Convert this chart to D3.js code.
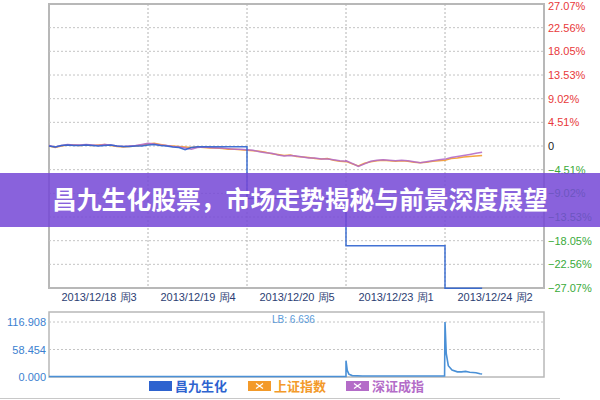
<!DOCTYPE html>
<html><head><meta charset="utf-8">
<script src="https://cdn.jsdelivr.net/npm/d3@7/dist/d3.min.js"></script>
<style>body{margin:0;background:#fff}svg{display:block}</style>
</head><body>
<svg id="c" width="600" height="400"></svg>
<script>
const dayLabels = ["2013/12/18 周3","2013/12/19 周4","2013/12/20 周5","2013/12/23 周1","2013/12/24 周2"];
const pctTicks = [27.07,22.56,18.05,13.53,9.02,4.51,0,-4.51,-9.02,-13.53,-18.05,-22.56,-27.07];
const volTicks = [0, 58.454, 116.908];
const stepMin = 15, dayMin = 240;
// 昌九生化 % change, per day, every 15 minutes
const stockPct = [
  [0.0,-0.2,0.1,0.2,0.1,0.1,0.2,0.1,0.0,0.1,0.2,0.0,-0.1,-0.1,0.0,0.0,0.2],
  [0.2,0.3,0.1,0.0,-0.2,-0.3,-0.7,-0.3,-0.15,-0.15,-0.15,-0.15,-0.15,-0.15,-0.15,-0.15,-0.15],
  [-10,-10,-10,-10,-10,-10,-10,-10,-10,-10,-10,-10,-10,-10,-10,-10,-10],
  [-19,-19,-19,-19,-19,-19,-19,-19,-19,-19,-19,-19,-19,-19,-19,-19,-19],
  [-27.1,-27.1,-27.1,-27.1,-27.1,-27.1,-27.1]
];
const shPct = [
  [0.0,-0.3,0.0,0.2,0.2,0.1,0.2,0.1,0.2,0.3,0.1,-0.1,-0.2,-0.1,0.0,0.2,0.4],
  [0.4,0.5,0.3,0.1,0.0,-0.1,-0.2,-0.3,-0.2,-0.3,-0.4,-0.4,-0.5,-0.6,-0.6,-0.7,-0.8],
  [-0.8,-0.9,-1.0,-1.2,-1.5,-1.6,-1.8,-1.7,-2.0,-2.1,-2.2,-2.4,-2.5,-2.4,-2.7,-2.9,-3.0],
  [-2.9,-3.4,-3.8,-3.3,-3.0,-2.8,-2.7,-2.8,-2.9,-2.8,-2.9,-3.1,-3.2,-3.1,-2.9,-2.8,-2.7],
  [-2.7,-2.4,-2.3,-2.1,-2.0,-1.9,-1.8]
];
const szPct = [
  [0.1,-0.2,0.1,0.3,0.2,0.2,0.3,0.2,0.1,0.3,0.2,0.0,-0.1,0.0,0.1,0.3,0.5],
  [0.5,0.4,0.2,0.1,-0.1,-0.2,-0.4,-0.6,-0.3,-0.2,-0.3,-0.4,-0.4,-0.5,-0.6,-0.6,-0.7],
  [-0.7,-0.8,-1.1,-1.3,-1.4,-1.7,-1.9,-1.8,-1.9,-2.1,-2.3,-2.3,-2.5,-2.5,-2.6,-2.8,-2.9],
  [-2.8,-3.3,-3.9,-3.4,-2.9,-2.7,-2.6,-2.7,-2.8,-2.7,-2.8,-3.0,-3.2,-3.0,-2.8,-2.6,-2.5],
  [-2.5,-2.2,-2.0,-1.8,-1.6,-1.4,-1.2]
];
// volume: minute offset from first open, value
const volTime  = [0,240,480,720,720,723,727,735,760,840,959,960,963,968,977,990,1000,1010,1020,1035,1045,1050];
const volValue = [1,1,1,1,34.6,14,6,3,2,2,2,116.908,50,24,15,11,11,12,10,9,7,6.4];
const lbText = "LB: 6.636";
const legendNames = ["昌九生化","上证指数","深证成指"];
const colors = ["#2e63cf","#f39a2a","#b46cc8"];

const svg = d3.select("#c");
const L = 49, R = 544;
const x = d3.scaleLinear().domain([0, dayMin*5]).range([L, R]);
const y = d3.scaleLinear().domain([-27.07, 27.07]).range([288, 4]);
const yv = d3.scaleLinear().domain([0, 116.908]).range([377, 322]);

function toPts(arr){
  const pts=[];
  arr.forEach((day,d)=>day.forEach((v,i)=>pts.push([d*dayMin+i*stepMin, v])));
  return pts;
}

// main frame
svg.append("rect").attr("x",L).attr("y",4).attr("width",R-L).attr("height",284)
  .attr("fill","#fff").attr("stroke","#b8b8b8").attr("stroke-width",2);
// horizontal grid
svg.append("g").selectAll("line").data(pctTicks.slice(1,-1)).join("line")
  .attr("x1",L).attr("x2",R).attr("y1",d=>y(d)).attr("y2",d=>y(d))
  .attr("stroke","#c4c4c4").attr("stroke-dasharray","2,2");
// vertical grid
svg.append("g").selectAll("line").data([1,2,3,4]).join("line")
  .attr("x1",d=>x(d*dayMin)).attr("x2",d=>x(d*dayMin)).attr("y1",4).attr("y2",288)
  .attr("stroke","#b4b4b4").attr("stroke-dasharray","2,2");
// right axis
const ra = svg.append("g").attr("transform",`translate(${R},0)`)
  .call(d3.axisRight(y).tickValues(pctTicks).tickSize(0).tickPadding(4)
    .tickFormat(d=> d===0 ? "0" : d3.format(".2f")(d)+"%"));
ra.select(".domain").remove();
ra.selectAll("text").attr("font-family","Arial, 'Liberation Sans', sans-serif").attr("font-size",11)
  .attr("fill",d=> d>0 ? "#e8393a" : d<0 ? "#3aaa3a" : "#222");
ra.selectAll(".tick").filter(d=>d===27.07).select("text").attr("dy","0.85em").attr("y",-4);
// x labels
const xa = svg.append("g").attr("transform","translate(0,288)")
  .call(d3.axisBottom(x).tickValues([0,1,2,3,4].map(d=>d*dayMin+dayMin/2)).tickSize(0).tickPadding(5)
    .tickFormat((d,i)=>dayLabels[i]));
xa.select(".domain").remove();
xa.selectAll("text").attr("font-family","Arial, 'Liberation Sans', sans-serif").attr("font-size",11).attr("fill","#2c3e73");

const line = d3.line().x(d=>x(d[0])).y(d=>y(d[1]));
[[shPct,colors[1]],[szPct,colors[2]],[stockPct,colors[0]]].forEach(([arr,c])=>{
  svg.append("path").datum(toPts(arr)).attr("d",line).attr("fill","none")
    .attr("stroke",c).attr("stroke-width",1.5).attr("opacity",0.9);
});

// volume panel
svg.append("rect").attr("x",L).attr("y",312).attr("width",R-L).attr("height",65)
  .attr("fill","#fff").attr("stroke","#b8b8b8").attr("stroke-width",1.5);
svg.append("g").selectAll("line").data(volTicks.slice(1)).join("line")
  .attr("x1",L).attr("x2",R).attr("y1",d=>yv(d)).attr("y2",d=>yv(d))
  .attr("stroke","#c4c4c4").attr("stroke-dasharray","2,2");
const va = svg.append("g").attr("transform",`translate(${L},0)`)
  .call(d3.axisLeft(yv).tickValues(volTicks).tickSize(0).tickPadding(3).tickFormat(d3.format(".3f")));
va.select(".domain").remove();
va.selectAll("text").attr("font-family","Arial, 'Liberation Sans', sans-serif").attr("font-size",11).attr("fill","#3b7fd0");
const vline = d3.line().x((d,i)=>x(volTime[i])).y(d=>yv(d));
svg.append("path").datum(volValue).attr("d",vline).attr("fill","none")
  .attr("stroke","#4a90d6").attr("stroke-width",1.6);
svg.append("text").attr("x",272).attr("y",323).text(lbText)
  .attr("font-family","Arial, 'Liberation Sans', sans-serif").attr("font-size",10).attr("fill","#5b9ad8");

// legend
const legX = [149,248,346];
const lg = svg.append("g");
legendNames.forEach((n,i)=>{
  lg.append("rect").attr("x",legX[i]).attr("y",381).attr("width",23).attr("height",10).attr("fill",colors[i]);
  if(i>0){
    lg.append("path").attr("d",`M${legX[i]+8},${383.5}L${legX[i]+15},${388.5}M${legX[i]+15},${383.5}L${legX[i]+8},${388.5}`)
      .attr("stroke","#fff").attr("stroke-width",1.3);
  }
  lg.append("text").attr("x",legX[i]+26).attr("y",391).text(n)
    .attr("font-family","'Noto Sans CJK SC', sans-serif").attr("font-size",13).attr("font-weight","bold").attr("fill",colors[i]);
});
svg.append("line").attr("x1",0).attr("x2",560).attr("y1",398.5).attr("y2",398.5).attr("stroke","#c8c8c8");

// title band
svg.append("rect").attr("x",0).attr("y",173).attr("width",600).attr("height",54)
  .attr("fill","#7446d6").attr("opacity",0.85);
svg.append("text").attr("x",52).attr("y",209).text("昌九生化股票，市场走势揭秘与前景深度展望")
  .attr("font-family","'Noto Sans CJK SC', sans-serif").attr("font-size",24.8).attr("font-weight","bold").attr("fill","#fff");
</script>
</body></html>
